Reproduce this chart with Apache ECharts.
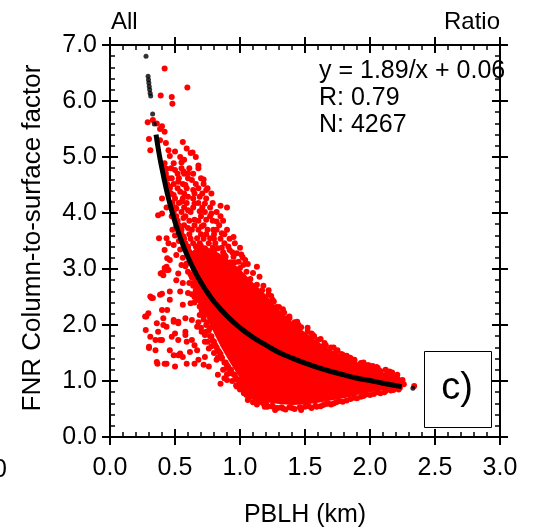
<!DOCTYPE html>
<html><head><meta charset="utf-8">
<script src="https://cdn.jsdelivr.net/npm/echarts@6/dist/echarts.min.js"></script>
<style>html,body{margin:0;padding:0;background:#fff}#c{width:535px;height:531px}</style>
</head><body><div id="c"></div>
<script>
// ---- tick labels ----
const xTickLabels = ['0.0','0.5','1.0','1.5','2.0','2.5','3.0'];
const yTickLabels = ['0.0','1.0','2.0','3.0','4.0','5.0','6.0','7.0'];

// ---- red scatter (PBLH km, column-to-surface factor) ----
const redUpper = [[0.42,6.58],[0.595,6.24],[0.39,6.10],[0.475,6.07],[0.48,5.95],[0.29,5.62],[0.33,5.66],[0.36,5.60],[0.40,5.55],[0.385,5.50],[0.42,5.45],[0.30,5.32],[0.43,5.25],[0.385,5.30],[0.56,5.27],[0.31,5.12],[0.62,5.07],[0.635,5.08],[0.46,5.02],[0.54,5.00],[0.42,4.89],[0.49,4.89],[0.55,4.90],[0.435,4.79],[0.50,4.77],[0.565,4.74],[0.60,4.71],[0.63,4.59],[0.72,4.60],[0.475,4.62],[0.525,4.56],[0.58,4.50],[0.46,4.47],[0.64,4.41],[0.74,4.41],[0.54,4.38],[0.49,4.32],[0.60,4.29],[0.69,4.29],[0.40,4.26],[0.55,4.20],[0.65,4.17],[0.73,4.17],[0.85,4.13],[0.90,4.10],[0.435,4.10],[0.51,4.08],[0.60,4.05],[0.69,4.03],[0.78,3.99],[0.37,3.96],[0.40,3.99],[0.475,3.94],[0.565,3.91],[0.65,3.88],[0.74,3.88],[0.82,3.85],[0.51,3.76],[0.60,3.73],[0.705,3.76],[0.795,3.70],[0.86,3.64],[0.435,3.55],[0.377,3.55],[0.45,3.46],[0.565,3.58],[0.67,3.55],[0.77,3.55],[0.95,3.57],[0.49,3.43],[0.60,3.40],[0.73,3.37],[0.83,3.37],[0.92,3.34],[0.42,3.34],[0.975,3.28],[0.51,3.25],[0.65,3.22],[0.78,3.22],[0.44,3.19],[0.46,3.16],[0.885,3.16],[1.04,3.16],[1.13,3.04],[1.025,3.07],[0.55,3.07],[0.435,3.04],[0.39,2.92],[0.435,2.98],
[0.50,5.10],[0.59,5.15],[0.45,5.12],[0.66,5.00],[0.57,4.95],[0.68,4.85],[0.47,4.80]];

const redBand = [[0.42,4.80],[0.55,4.80],[0.61,4.80],[0.68,4.80],[0.43,4.70],[0.52,4.70],[0.57,4.70],[0.64,4.70],[0.45,4.62],[0.53,4.62],[0.60,4.62],[0.70,4.62],[0.44,4.52],[0.49,4.52],[0.56,4.52],[0.66,4.52],[0.72,4.52],[0.46,4.44],[0.52,4.44],[0.59,4.44],[0.68,4.44],[0.75,4.44],[0.47,4.35],[0.57,4.35],[0.65,4.35],[0.71,4.35],[0.78,4.35],[0.50,4.26],[0.56,4.26],[0.64,4.26],[0.74,4.26],[0.48,4.18],[0.53,4.18],[0.59,4.18],[0.68,4.18],[0.79,4.18],[0.50,4.10],[0.57,4.10],[0.64,4.10],[0.71,4.10],[0.77,4.10],[0.49,4.02],[0.55,4.02],[0.62,4.02],[0.73,4.02],[0.82,4.02],[0.51,3.94],[0.58,3.94],[0.70,3.94],[0.77,3.94],[0.85,3.94],[0.52,3.86],[0.61,3.86],[0.68,3.86],[0.79,3.86],[0.87,3.86],[0.53,3.78],[0.57,3.78],[0.65,3.78],[0.72,3.78],[0.84,3.78],[0.55,3.70],[0.63,3.70],[0.68,3.70],[0.75,3.70],[0.82,3.70],[0.90,3.70],[0.55,3.62],[0.61,3.62],[0.70,3.62],[0.74,3.62],[0.80,3.62],[0.88,3.62],[0.57,3.54],[0.62,3.54],[0.72,3.54],[0.80,3.54],[0.85,3.54],[0.92,3.54],[0.58,3.46],[0.64,3.46],[0.69,3.46],[0.76,3.46],[0.81,3.46],[0.88,3.46],[0.96,3.46],[0.60,3.38],[0.66,3.40],[0.70,3.41],[0.79,3.38],[0.86,3.38],[0.91,3.40],[1.00,3.38],[0.80,3.30],[0.87,3.30],[0.94,3.30],[1.01,3.26],[0.89,3.22],[0.95,3.22],[1.02,3.21],[0.93,3.12],[0.99,3.13],[1.06,3.09],[0.61,3.31],[0.63,3.26]];

const redLobe = [[0.28,2.15],[0.295,2.21],[0.275,1.91],[0.31,1.79],[0.30,1.59],[0.35,1.73],[0.36,2.03],[0.41,2.12],[0.40,2.27],[0.44,2.27],[0.32,2.48],[0.40,2.56],[0.46,2.45],[0.42,3.02],[0.45,2.98],[0.40,2.93],[0.51,2.80],[0.56,2.75],[0.60,2.57],[0.62,2.39],[0.56,2.36],[0.49,2.06],[0.525,2.06],[0.58,2.12],[0.63,2.09],[0.69,2.18],[0.705,2.27],[0.74,2.24],[0.37,1.88],[0.40,1.73],[0.35,1.55],[0.36,1.34],[0.42,1.31],[0.50,1.26],[0.49,1.46],[0.54,1.49],[0.525,1.73],[0.58,1.82],[0.59,1.70],[0.63,1.73],[0.65,1.64],[0.67,1.55],[0.615,1.52],[0.68,1.38],[0.73,1.43],[0.76,1.26],[0.72,1.29],[0.65,1.31],[0.59,1.31],[0.705,1.88],[0.74,1.88],[0.67,1.97],[0.76,1.58],[0.73,1.70],[0.82,1.38],[0.83,1.11],[0.90,1.23],[0.90,1.02],[0.92,1.14],[0.975,0.90],[1.04,0.84],[1.0,1.02],[1.05,0.75],[1.06,0.66],[1.13,0.72],[1.21,0.54],[1.27,0.52],[0.85,0.95],[0.88,1.05],[0.46,1.55],[0.475,1.79],[0.435,1.97],[0.46,2.60],[0.54,2.60],[0.525,2.92],[0.59,3.10],[0.41,2.89],[0.31,2.51],[0.33,2.48],[0.385,2.54],[0.27,2.15],[0.30,1.61],[0.365,1.31],[0.435,1.31],[0.525,1.46],[0.56,1.43],[0.385,1.73],[0.41,2.0],[0.50,1.85],[0.49,2.09],[0.525,2.03],[0.58,1.88]];

const redMiddle = [[0.62,2.90],[0.64,2.75],[0.66,2.62],[0.68,2.48],[0.65,2.50],[0.70,2.40],[0.72,2.15],[0.75,2.05],[0.77,1.95],[0.78,1.80],[0.80,1.70],[0.82,1.60],[0.84,1.52],[0.86,1.42],[0.88,1.33],[0.90,1.28],[0.93,1.20],[0.95,1.12],[0.97,1.05],[1.00,0.95],[1.02,0.90],[1.05,0.88],[1.08,0.82],[1.10,0.76],[1.12,0.70],[1.15,0.64],[1.18,0.60],[0.60,2.95],[0.58,3.05],[0.56,3.20],[0.54,3.35],[0.53,3.50],[0.50,3.60],[0.48,3.70],[0.71,2.70],[0.69,2.80],[0.67,3.00],[0.63,3.10],
[0.63,2.85],[0.64,2.70],[0.66,2.58],[0.67,2.45],[0.69,2.33],[0.71,2.22],[0.72,2.10],[0.74,2.00],[0.76,1.90],[0.77,1.80],[0.79,1.72],[0.81,1.64],[0.83,1.55],[0.85,1.48],[0.86,1.40],[0.89,1.33],[0.91,1.25],[0.93,1.18],[0.96,1.10],[0.98,1.02],[1.01,0.95],[1.04,0.89],[1.06,0.83],[1.09,0.77],[1.11,0.71],[1.14,0.66],[1.17,0.62],[1.20,0.57],
[0.61,2.75],[0.63,2.55],[0.65,2.40],[0.68,2.05],[0.70,1.95],[0.73,1.82],[0.75,1.70],[0.78,1.62],[0.80,1.50],[0.83,1.42],[0.87,1.20],[0.90,1.12],[0.94,1.00],[0.97,0.92],[1.00,0.85],[1.03,0.78],[1.07,0.70],[1.10,0.62],[1.13,0.58]];

const redFringe = [[1.10,2.93],[1.15,2.86],[1.22,2.62],[1.26,2.42],[1.30,2.21],[1.18,2.70],[1.24,2.52],[1.28,2.32],[1.33,2.28],[1.36,2.12],[1.44,2.06],[1.44,1.91],[1.56,1.82],[1.63,1.61],[1.67,1.49],[1.85,1.41],[1.92,1.26],[2.06,1.23],[2.15,1.17],[2.21,1.11],[2.19,1.05],[2.10,1.08],[2.21,1.04],[2.34,0.91],
[1.38,2.15],[1.45,2.00],[1.52,1.95],[1.55,1.85],[1.62,1.75],[1.65,1.68],[1.72,1.60],[1.75,1.55],[1.78,1.48],[1.82,1.45],[1.88,1.38],[1.95,1.33],[1.98,1.28],[2.02,1.27],[2.05,1.25],[2.12,1.20],[2.17,1.15],[2.25,1.02],[2.24,0.98],[2.26,0.94],[2.23,0.88],[2.18,0.84],[2.12,0.82],[2.06,0.80],[1.97,0.76],[1.93,0.72],[1.85,0.68],[1.76,0.64],[1.72,0.60],[1.64,0.57],[1.55,0.52],[1.50,0.54],[1.42,0.50],[1.38,0.53],[1.35,0.49],[1.29,0.52],[1.24,0.55],[1.20,0.60],[1.17,0.68],[1.14,0.72],[1.62,0.55],[1.70,0.58],
[2.08,0.78],[2.00,0.75],[1.90,0.69],[1.79,0.63],[1.68,0.60],[1.59,0.54],[1.47,0.48],[1.33,0.51],[1.27,0.48],[1.19,0.54],[1.13,0.75],[1.08,0.96],
[0.80,3.35],[0.88,3.25],[0.96,3.12],[1.00,3.02],[1.05,2.95],[1.08,2.82],[1.13,2.72],[1.17,2.62],[1.22,2.55],[1.25,2.45],[1.30,2.32],[1.34,2.22],[1.38,2.12],[1.42,2.05],[1.47,1.96],[1.52,1.88],[1.57,1.80],[1.60,1.73],[1.66,1.64],[1.70,1.60],[1.74,1.53],[1.79,1.47],[1.84,1.42],[1.88,1.36],[1.93,1.32],[1.99,1.28],[2.03,1.22],[2.08,1.18],[2.13,1.12],[2.17,1.09],[2.22,1.02],
[1.25,0.56],[1.32,0.53],[1.40,0.52],[1.46,0.53],[1.53,0.55],[1.58,0.56],[1.66,0.59],[1.74,0.62],[1.82,0.65],[1.88,0.70],[1.95,0.73],[2.03,0.77],[2.11,0.80],[2.16,0.83],[2.22,0.85]];

// dense core outline of the red cloud (solid region)
const coreX = [0.60,0.66,0.74,0.84,0.94,1.02,1.10,1.20,1.30,1.40,1.50,1.60,1.70,1.80,1.90,2.00,2.10,2.18,2.23,2.20,2.10,2.00,1.90,1.80,1.70,1.60,1.50,1.40,1.30,1.20,1.13,1.04,0.97,0.91,0.85,0.79,0.73,0.67,0.63];
const coreY = [3.25,3.38,3.40,3.28,3.12,2.95,2.76,2.54,2.27,2.06,1.87,1.70,1.56,1.44,1.34,1.25,1.16,1.07,0.96,0.87,0.84,0.80,0.75,0.69,0.65,0.61,0.58,0.57,0.59,0.62,0.72,0.92,1.15,1.38,1.62,1.90,2.20,2.55,2.90];

// ---- black fit curve ----
const fitX = [0.354,0.38,0.40,0.45,0.50,0.55,0.60,0.65,0.70,0.75,0.80,0.90,1.00,1.10,1.20,1.30,1.40,1.50,1.60,1.70,1.80,1.90,2.00,2.10,2.244];
const fitY = [5.40,5.03,4.79,4.26,3.84,3.50,3.21,2.97,2.76,2.58,2.42,2.16,1.95,1.78,1.64,1.51,1.41,1.32,1.24,1.17,1.11,1.05,1.01,0.96,0.90];
const blackPts = [[0.277,6.80],[0.293,6.44],[0.296,6.38],[0.299,6.32],[0.302,6.26],[0.305,6.20],[0.309,6.14],[0.313,6.09],[0.328,5.77],[0.341,5.59],[2.33,0.87]];

const FONT = '"Liberation Sans", Arial, Helvetica, sans-serif';
const chart = echarts.init(document.getElementById('c'), null, {renderer:'canvas'});
const lineSt = {color:'#000', width:2};
function ax(extra){ return Object.assign({type:'value', min:0, splitLine:{show:false}}, extra); }
const xCommon = {max:3, interval:0.5};
const yCommon = {max:7, interval:1};
const inTick = {axisLine:{show:true, onZero:false, lineStyle:lineSt}, axisTick:{show:true, inside:true, length:8, lineStyle:lineSt}, minorTick:{show:true, splitNumber:5, length:5, lineStyle:{color:'#000', width:1.5}}};
const outTick = {axisLine:{show:false, onZero:false}, axisTick:{show:true, inside:false, length:8, lineStyle:lineSt}, minorTick:{show:false}, axisLabel:{show:false}};
const gridRect = {left:110, right:35, top:45, bottom:94};

const option = {
  animation:false,
  grid:[Object.assign({}, gridRect), Object.assign({}, gridRect)],
  xAxis:[
    ax(Object.assign({gridIndex:0, position:'bottom'}, xCommon, inTick, {axisLabel:{show:true, color:'#000', fontSize:25, fontFamily:FONT, margin:19, formatter:v=>xTickLabels[Math.round(v/0.5)]}})),
    ax(Object.assign({gridIndex:0, position:'top'}, xCommon, inTick, {axisLabel:{show:false}})),
    ax(Object.assign({gridIndex:1, position:'bottom'}, xCommon, outTick)),
    ax(Object.assign({gridIndex:1, position:'top'}, xCommon, outTick))
  ],
  yAxis:[
    ax(Object.assign({gridIndex:0, position:'left'}, yCommon, inTick, {axisLabel:{show:true, color:'#000', fontSize:25, fontFamily:FONT, margin:13, formatter:v=>yTickLabels[Math.round(v)]}})),
    ax(Object.assign({gridIndex:0, position:'right'}, yCommon, inTick, {axisLabel:{show:false}})),
    ax(Object.assign({gridIndex:1, position:'left'}, yCommon, outTick)),
    ax(Object.assign({gridIndex:1, position:'right'}, yCommon, outTick))
  ],
  series:[
    {type:'custom', xAxisIndex:0, yAxisIndex:0, silent:true, z:1, data:[[0,0]],
     renderItem:function(params, api){
       const pts = coreX.map((x,i)=>api.coord([x, coreY[i]]));
       return {type:'polygon', shape:{points:pts}, style:{fill:'#ff0000'}};
     }},
    {type:'scatter', xAxisIndex:0, yAxisIndex:0, z:2, symbol:'circle', symbolSize:6, itemStyle:{color:'#ff0000', opacity:1},
     data:[].concat(redUpper, redBand, redLobe, redMiddle, redFringe)},
    {type:'line', xAxisIndex:0, yAxisIndex:0, z:3, smooth:true, showSymbol:false, lineStyle:{color:'#000', width:5},
     data:fitX.map((x,i)=>[x, fitY[i]])},
    {type:'scatter', xAxisIndex:0, yAxisIndex:0, z:3, symbol:'circle', symbolSize:5, itemStyle:{color:'#000'}, data:blackPts}
  ],
  graphic:[
    {type:'text', x:111, y:22, style:{text:'All', font:'24px '+FONT, fill:'#000', textAlign:'left', textVerticalAlign:'middle'}},
    {type:'text', x:500, y:22, style:{text:'Ratio', font:'24px '+FONT, fill:'#000', textAlign:'right', textVerticalAlign:'middle'}},
    {type:'text', x:319, y:71, style:{text:'y = 1.89/x + 0.06', font:'25px '+FONT, fill:'#000', textAlign:'left', textVerticalAlign:'middle'}},
    {type:'text', x:319, y:98, style:{text:'R: 0.79', font:'25px '+FONT, fill:'#000', textAlign:'left', textVerticalAlign:'middle'}},
    {type:'text', x:319, y:125, style:{text:'N: 4267', font:'25px '+FONT, fill:'#000', textAlign:'left', textVerticalAlign:'middle'}},
    {type:'rect', shape:{x:424.5, y:351.5, width:67, height:76}, style:{fill:'#fff', stroke:'#000', lineWidth:1}, z:10},
    {type:'text', x:457, y:389, z:11, style:{text:'c)', font:'38px '+FONT, fill:'#000', textAlign:'center', textVerticalAlign:'middle'}},
    {type:'text', x:305, y:515, style:{text:'PBLH (km)', font:'25px '+FONT, fill:'#000', textAlign:'center', textVerticalAlign:'middle'}},
    {type:'text', x:33, y:238, rotation:Math.PI/2, style:{text:'FNR Column-to-surface factor', font:'26px '+FONT, fill:'#000', textAlign:'center', textVerticalAlign:'middle'}},
    {type:'text', x:7, y:470, style:{text:'0', font:'25px '+FONT, fill:'#000', textAlign:'right', textVerticalAlign:'middle'}}
  ]
};
chart.setOption(option);
</script></body></html>
